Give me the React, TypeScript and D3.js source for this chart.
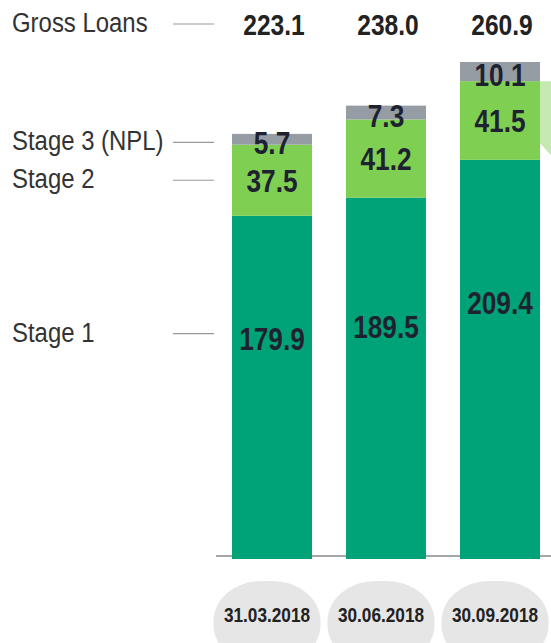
import React from "react";
import * as d3 from "d3";

const dates = ["31.03.2018", "30.06.2018", "30.09.2018"];
const stage1 = [179.9, 189.5, 209.4];
const stage2 = [37.5, 41.2, 41.5];
const stage3 = [5.7, 7.3, 10.1];
const totals = ["223.1", "238.0", "260.9"];
const seriesNames = ["Stage 1", "Stage 2", "Stage 3 (NPL)"];
const totalLabel = "Gross Loans";

const W = 551;
const H = 643;
const FONT = "'Liberation Sans', Arial, sans-serif";
const colors = ["#00A277", "#7ECF52", "#969CA3"];

function NText(props: { x: number; y: number; size: number; sx?: number; bold?: boolean; anchor?: string; fill: string; children: any }) {
  return (
    <text
      transform={`translate(${props.x},${props.y}) scale(${props.sx ?? 0.82},1)`}
      textAnchor={props.anchor || "start"}
      fontFamily={FONT}
      fontWeight={props.bold ? "bold" : "normal"}
      fontSize={props.size}
      fill={props.fill}
    >
      {props.children}
    </text>
  );
}

export default function App() {
  const x = d3.scaleBand<string>().domain(dates).range([232, 540]).paddingInner(34 / 114).paddingOuter(0);
  const maxTotal = d3.max(dates.map((_, i) => stage1[i] + stage2[i] + stage3[i])) as number;
  const y = d3.scaleLinear().domain([0, maxTotal]).range([557, 62]);

  const rows = dates.map((d, i) => ({ date: d, s1: stage1[i], s2: stage2[i], s3: stage3[i] }));
  const stack = d3.stack<any>().keys(["s1", "s2", "s3"])(rows);
  const bw = x.bandwidth();
  const cxOf = (d: string) => (x(d) as number) + bw / 2;

  const labelY = (k: number, i: number) => {
    const [a, b] = stack[k][i];
    if (k === 0) return y(b) + 0.36 * (y(a) - y(b));
    if (k === 1) return (y(a) + y(b)) / 2;
    return (y(a) + y(b)) / 2 + 3;
  };

  const legendRows = [
    { name: totalLabel, ly: 24 },
    { name: seriesNames[2], ly: labelY(2, 0) },
    { name: seriesNames[1], ly: labelY(1, 0) },
    { name: seriesNames[0], ly: labelY(0, 0) - 5 },
  ];

  const bar3 = dates[2];
  const topS2 = y(stack[1][2][1]);
  const rx = (x(bar3) as number) + bw;
  const shape = `M${rx},${topS2} L${W},${topS2} L${W},${topS2 + 74} L${rx},${topS2 + 62} Z`;

  return (
    <svg width={W} height={H} style={{ position: "absolute", left: 0, top: 0, background: "#fff" }}>
      {legendRows.map((r) => (
        <g key={r.name}>
          <NText x={12} y={r.ly + 8} size={28} sx={0.855} fill="#333">{r.name}</NText>
          <line x1={173} x2={214} y1={r.ly} y2={r.ly} stroke="#999" strokeWidth={1.2} />
        </g>
      ))}
      <line x1={216} x2={W} y1={556} y2={556} stroke="#8a8a8a" strokeWidth={1.5} />
      <path d={shape} fill="#C6E8B3" />
      {stack.map((s, k) =>
        s.map((seg, i) => (
          <rect
            key={`${k}-${i}`}
            x={x(dates[i])}
            width={bw}
            y={y(seg[1])}
            height={y(seg[0]) - y(seg[1]) + (k === 0 ? 2 : 0)}
            fill={colors[k]}
          />
        ))
      )}
      {stack.map((s, k) =>
        s.map((seg, i) => (
          <NText key={`l${k}-${i}`} x={cxOf(dates[i])} y={labelY(k, i) + 11.5} anchor="middle" bold size={32} fill="#1E2230">
            {[stage1, stage2, stage3][k][i]}
          </NText>
        ))
      )}
      {dates.map((d, i) => (
        <NText key={`t${i}`} x={cxOf(d) + 2} y={35} anchor="middle" bold size={30} fill="#222">
          {totals[i]}
        </NText>
      ))}
      {dates.map((d) => {
        const cx = cxOf(d) - 5;
        return (
          <g key={`p${d}`}>
            <rect x={cx - 53.5} y={581} width={107} height={84} rx={48} ry={40} fill="#E6E6E6" />
            <NText x={cx} y={622} anchor="middle" bold size={21} fill="#222">{d}</NText>
          </g>
        );
      })}
    </svg>
  );
}
